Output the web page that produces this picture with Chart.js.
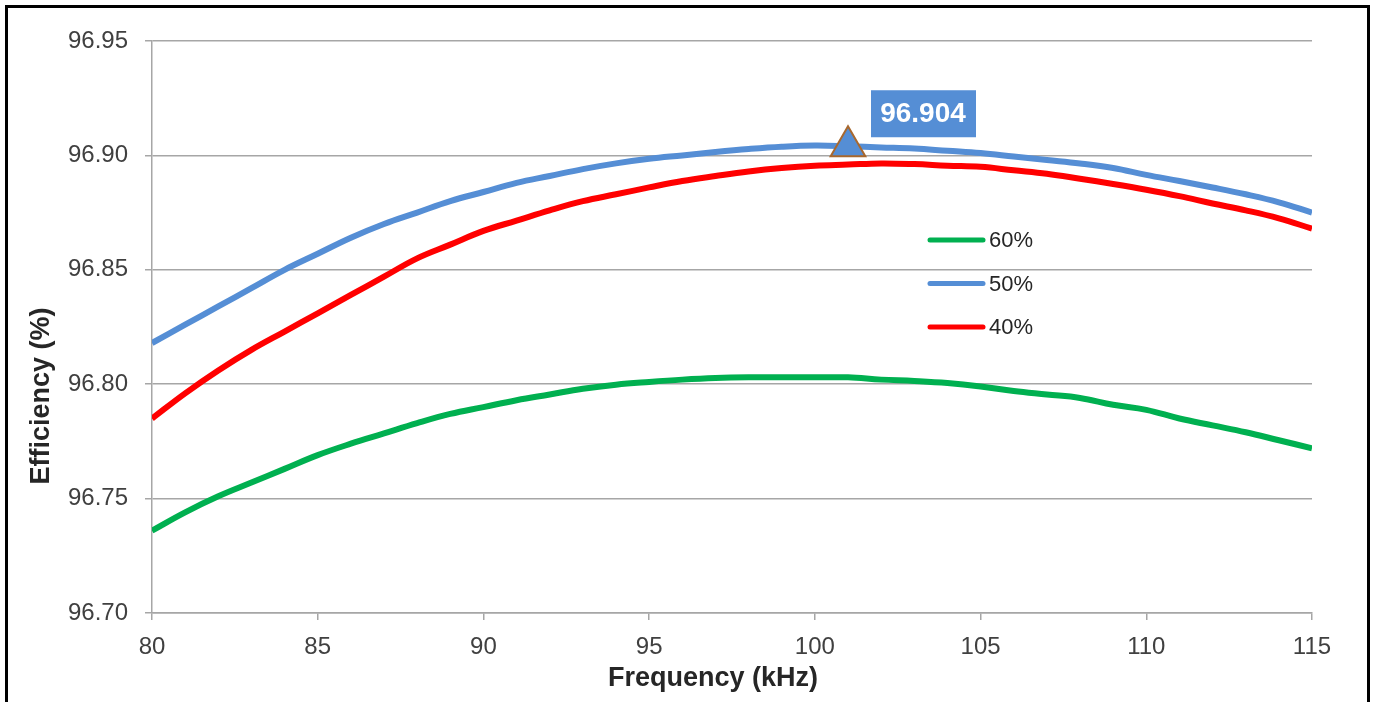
<!DOCTYPE html>
<html>
<head>
<meta charset="utf-8">
<script src="https://cdn.jsdelivr.net/npm/chart.js@4.4.0/dist/chart.umd.min.js"></script>
<style>
    html, body { margin: 0; padding: 0; background: #ffffff; }
    #wrap { position: relative; width: 1375px; height: 702px; overflow: hidden; }
    #frame {
        position: absolute; left: 5px; top: 5px; width: 1359px; height: 720px;
        border: 3px solid #000000; pointer-events: none;
    }
</style>
</head>
<body>
<div id="wrap">
    <canvas id="effChart"></canvas>
    <div id="frame"></div>
</div>
<script>
// frequency points (kHz)
const freqs = [80, 81, 82, 83, 84, 85, 86, 87, 88, 89, 90, 91, 92, 93, 94, 95, 96, 97,
    98, 99, 100, 101, 102, 103, 104, 105, 106, 107, 108, 109, 110, 111, 112, 113, 114, 115];

// efficiency (%) per load
const eff60 = [96.736, 96.744, 96.751, 96.757, 96.763, 96.769, 96.774, 96.7785, 96.783, 96.787,
    96.790, 96.793, 96.7955, 96.798, 96.7998, 96.801, 96.802, 96.8027, 96.803, 96.803,
    96.803, 96.803, 96.802, 96.8014, 96.8005, 96.799, 96.797, 96.7955, 96.794, 96.791,
    96.7888, 96.785, 96.782, 96.779, 96.7755, 96.772];
const eff50 = [96.818, 96.826, 96.834, 96.842, 96.850, 96.857, 96.864, 96.870, 96.875, 96.880,
    96.884, 96.888, 96.891, 96.894, 96.8965, 96.8985, 96.900, 96.9015, 96.9028, 96.9038,
    96.9043, 96.904, 96.9035, 96.903, 96.902, 96.901, 96.8995, 96.898, 96.8965, 96.8945,
    96.8915, 96.8888, 96.886, 96.883, 96.8795, 96.875];
const eff40 = [96.785, 96.796, 96.806, 96.815, 96.823, 96.831, 96.839, 96.847, 96.855, 96.861,
    96.867, 96.8715, 96.876, 96.880, 96.883, 96.886, 96.8888, 96.891, 96.893, 96.8945,
    96.8955, 96.896, 96.8965, 96.8962, 96.8955, 96.895, 96.8935, 96.892, 96.8898, 96.8875,
    96.885, 96.8822, 96.879, 96.876, 96.8725, 96.868];

// peak marker
const peakFreq = 101;
const peakEff = 96.904;

const xTicks = [80, 85, 90, 95, 100, 105, 110, 115];
const yTicks = [96.70, 96.75, 96.80, 96.85, 96.90, 96.95];

const GREEN = "#00b050";
const BLUE = "#558ed5";
const RED = "#ff0000";
const FONT = "'Liberation Sans', Arial, sans-serif";

function toPoints(ys) {
    return freqs.map(function (f, i) { return { x: f, y: ys[i] }; });
}

// axis titles, label box next to the marker, legend inside plot
const overlayPlugin = {
    id: "overlay",
    afterDraw: function (chart) {
        const ctx = chart.ctx;
        const area = chart.chartArea;
        const pt = chart.getDatasetMeta(0).data[0];

        // axis titles (a bit off-centre like the original)
        ctx.save();
        ctx.fillStyle = "#262626";
        ctx.font = "bold 27px " + FONT;
        ctx.textAlign = "center";
        ctx.textBaseline = "middle";
        ctx.fillText("Frequency (kHz)", (area.left + area.right) / 2 - 19, chart.height - 23);
        ctx.translate(42, (area.top + area.bottom) / 2 + 69);
        ctx.rotate(-Math.PI / 2);
        ctx.fillText("Efficiency (%)", 0, 0);
        ctx.restore();

        // value box
        ctx.save();
        ctx.fillStyle = BLUE;
        ctx.fillRect(pt.x + 23, pt.y - 56, 105, 47);
        ctx.fillStyle = "#ffffff";
        ctx.font = "bold 28px " + FONT;
        ctx.textAlign = "center";
        ctx.textBaseline = "middle";
        ctx.fillText(peakEff.toFixed(3), pt.x + 23 + 52, pt.y - 56 + 24);
        ctx.restore();

        // legend
        const items = [
            { label: "60%", color: GREEN },
            { label: "50%", color: BLUE },
            { label: "40%", color: RED }
        ];
        ctx.save();
        ctx.lineCap = "round";
        ctx.lineWidth = 5;
        ctx.font = "22px " + FONT;
        ctx.textBaseline = "middle";
        ctx.textAlign = "left";
        items.forEach(function (it, i) {
            const lx = area.left + 778;
            const ly = area.top + 199 + i * 43.5;
            ctx.strokeStyle = it.color;
            ctx.beginPath();
            ctx.moveTo(lx, ly);
            ctx.lineTo(lx + 53, ly);
            ctx.stroke();
            ctx.fillStyle = "#262626";
            ctx.fillText(it.label, lx + 59, ly + 1);
        });
        ctx.restore();
    }
};

const canvas = document.getElementById("effChart");

new Chart(canvas, {
    type: "line",
    data: {
        datasets: [
            {
                label: "peak",
                data: [{ x: peakFreq, y: peakEff }],
                showLine: false,
                pointStyle: "triangle",
                pointRadius: 20,
                pointBackgroundColor: BLUE,
                pointBorderColor: "#a8682e",
                pointBorderWidth: 2,
                order: -1
            },
            {
                label: "60%",
                data: toPoints(eff60),
                borderColor: GREEN,
                borderWidth: 6,
                pointRadius: 0,
                tension: 0.4
            },
            {
                label: "50%",
                data: toPoints(eff50),
                borderColor: BLUE,
                borderWidth: 6,
                pointRadius: 0,
                tension: 0.4
            },
            {
                label: "40%",
                data: toPoints(eff40),
                borderColor: RED,
                borderWidth: 6,
                pointRadius: 0,
                tension: 0.4
            }
        ]
    },
    options: {
        responsive: true,
        maintainAspectRatio: false,
        animation: false,
        layout: {
            padding: { left: 0, right: 63, top: 41, bottom: 0 }
        },
        plugins: {
            legend: { display: false },
            tooltip: { enabled: false }
        },
        scales: {
            x: {
                type: "linear",
                min: xTicks[0],
                max: xTicks[xTicks.length - 1],
                afterBuildTicks: function (axis) {
                    axis.ticks = xTicks.map(function (v) { return { value: v }; });
                },
                afterFit: function (axis) { axis.height = 89; },
                grid: {
                    drawOnChartArea: false,
                    drawTicks: true,
                    tickLength: 7,
                    color: "#a6a6a6",
                    lineWidth: 1.5
                },
                border: { display: true, color: "#a6a6a6", width: 1.5 },
                ticks: {
                    padding: 13,
                    color: "#404040",
                    font: { family: FONT, size: 24 }
                }
            },
            y: {
                min: yTicks[0],
                max: yTicks[yTicks.length - 1],
                afterBuildTicks: function (axis) {
                    axis.ticks = yTicks.map(function (v) { return { value: v }; });
                },
                afterFit: function (axis) { axis.width = 152; },
                grid: {
                    drawTicks: true,
                    tickLength: 7,
                    color: "#a6a6a6",
                    lineWidth: 1.5
                },
                border: { display: true, color: "#a6a6a6", width: 1.5 },
                ticks: {
                    padding: 17,
                    color: "#404040",
                    font: { family: FONT, size: 24 },
                    callback: function (value) { return value.toFixed(2); }
                }
            }
        }
    },
    plugins: [overlayPlugin]
});
</script>
</body>
</html>
